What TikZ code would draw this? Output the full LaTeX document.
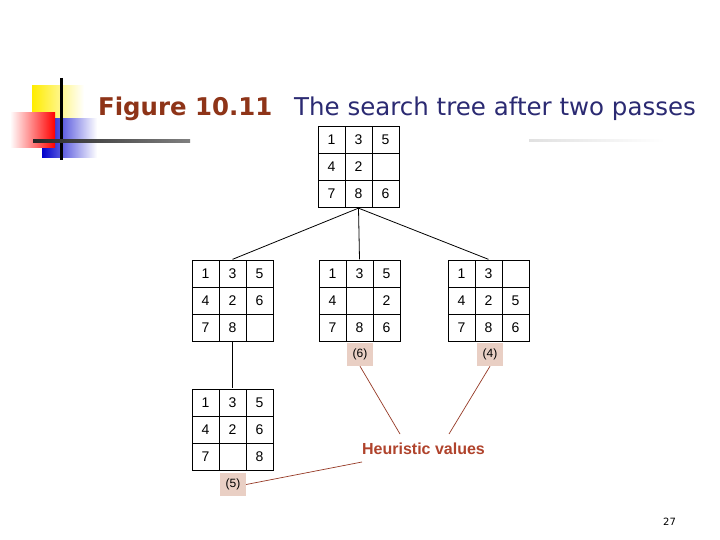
\documentclass[tikz,border=0pt]{standalone}
\usepackage{fontspec}
\setmainfont{Liberation Sans}
\newfontfamily\titlefont{DejaVu Sans}
\usepackage{xcolor}
\usetikzlibrary{matrix, positioning, calc}

\definecolor{figred}{HTML}{8E3418}
\definecolor{navy}{HTML}{2B2A72}
\definecolor{heurred}{HTML}{B0432C}
\definecolor{tagfill}{HTML}{E9CFC4}

\begin{document}
\begin{tikzpicture}[
    x=1pt, y=-1pt,
    cell/.style={draw, line width=0.9pt, minimum size=27pt, inner sep=0pt, anchor=center, text height=10pt, text depth=0pt, font=\fontsize{14}{14}\selectfont},
    puzzle/.style={matrix of nodes, nodes in empty cells, nodes={cell}, column sep=-0.9pt, row sep=-0.9pt, inner sep=0pt},
    tag/.style={fill=tagfill, minimum width=26pt, minimum height=23pt, inner sep=0pt, font=\fontsize{12}{12}\selectfont},
    tree/.style={draw, line width=0.8pt},
    hline/.style={draw=heurred!85!black, line width=0.7pt}
]
    \useasboundingbox (0,0) rectangle (720,540);
    \fill[white] (0,0) rectangle (720,540);

    % Slide decoration
    \shade[left color=yellow!85!orange, right color=white] (32,86) rectangle (84,134);
    \shade[left color=blue!80!black, right color=white] (42,119) rectangle (97,158);
    \shade[left color=white, right color=red] (10,113) rectangle (55,148);
    \draw[line width=2.5pt] (61.5,78) -- (61.5,160);
    \shade[left color=black!85, right color=black!50] (33,139.8) rectangle (190,142.2);
    \shade[left color=black!12, right color=white] (529,140) rectangle (665,142);

    % Title
    \node (figlabel) [anchor=base west, inner sep=0pt, text=figred, font=\titlefont\bfseries\fontsize{24.4}{24.4}\selectfont] at (98,116) {Figure 10.11};
    \node (caption) [anchor=base west, inner sep=0pt, text=navy, font=\titlefont\fontsize{24.5}{24.5}\selectfont] at (294,116) {The search tree after two passes};

    % Search tree
    \matrix (root) [puzzle] at (358.5,167) {1 & 3 & 5\\ 4 & 2 & \\ 7 & 8 & 6\\};
    \matrix (left) [puzzle] at (232.5,300.5) {1 & 3 & 5\\ 4 & 2 & 6\\ 7 & 8 & \\};
    \matrix (mid) [puzzle] at (359.5,300.5) {1 & 3 & 5\\ 4 & & 2\\ 7 & 8 & 6\\};
    \matrix (right) [puzzle] at (488.5,300.5) {1 & 3 & \\ 4 & 2 & 5\\ 7 & 8 & 6\\};
    \matrix (low) [puzzle] at (232.5,429.5) {1 & 3 & 5\\ 4 & 2 & 6\\ 7 & & 8\\};

    \draw [tree] (root.south) -- (left.north);
    \draw [tree] (root.south) -- (mid.north);
    \draw [tree] (root.south) -- (right.north);
    \draw [tree] (left.south) -- (low.north);

    % Heuristic values
    \node (hmid) [tag] at (360,354.5) {(6)};
    \node (hright) [tag] at (490,354.5) {(4)};
    \node (hlow) [tag] at (233,484.5) {(5)};
    \node (heur) [text=heurred, font=\bfseries\fontsize{16}{16}\selectfont] at (423.5,449) {Heuristic values};
    \coordinate (hA) at (400,434);
    \coordinate (hB) at (449,434);
    \coordinate (hC) at (362,462);

    \draw [hline] (hmid.south) -- (hA);
    \draw [hline] (hright.south) -- (hB);
    \draw [hline] (hlow.east) -- (hC);

    % Page number
    \node (page) [font=\titlefont\fontsize{10}{10}\selectfont] at (669.5,522) {27};
\end{tikzpicture}
\end{document}
